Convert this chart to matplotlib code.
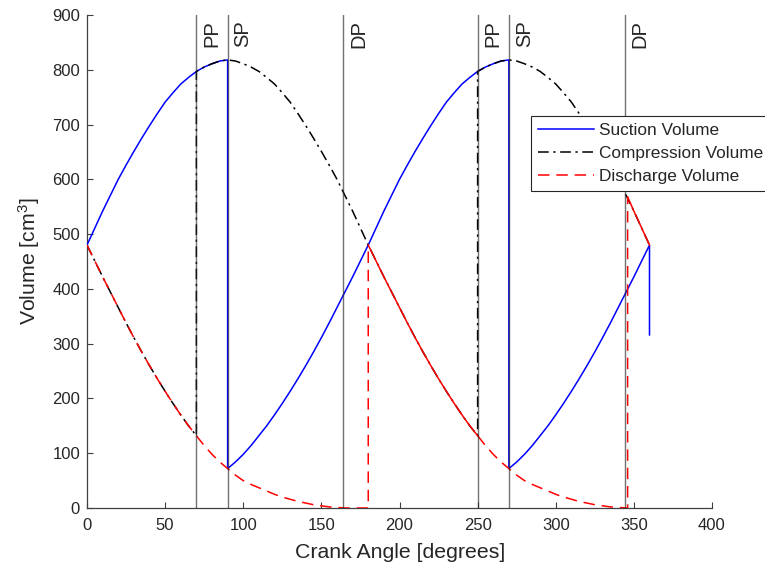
import matplotlib
matplotlib.use('Agg')
import matplotlib.pyplot as plt
from matplotlib.lines import Line2D
import matplotlib.transforms as mtransforms

plt.rcParams['font.family'] = ['Liberation Sans', 'DejaVu Sans']
plt.rcParams['mathtext.fontset'] = 'custom'
plt.rcParams['mathtext.rm'] = 'Liberation Sans'
plt.rcParams['mathtext.it'] = 'Liberation Sans:italic'

# ---------------- data ----------------
suction_angle = [0, 5, 10, 15, 20, 25, 30, 35, 40, 45, 50, 55, 60, 65, 70, 75, 80, 85, 90,
                 90, 95, 100, 105, 110, 115, 120, 125, 130, 135, 140, 145, 150, 155, 160, 165, 170, 175,
                 180, 185, 190, 195, 200, 205, 210, 215, 220, 225, 230, 235, 240, 245, 250, 255, 260, 265, 270,
                 270, 275, 280, 285, 290, 295, 300, 305, 310, 315, 320, 325, 330, 335, 340, 345, 350, 355, 360,
                 360]
suction_vol = [480, 511, 542, 571, 600, 626, 651, 675, 698, 720, 741, 758, 774, 786, 797, 805, 811, 816, 818,
               72, 84, 98, 114, 132, 150, 170, 191, 213, 236, 260, 285, 311, 338, 366, 394, 422, 451,
               480, 511, 542, 571, 600, 626, 651, 675, 698, 720, 741, 758, 774, 786, 797, 805, 811, 816, 818,
               72, 84, 98, 114, 132, 150, 170, 191, 213, 236, 260, 285, 311, 338, 366, 394, 422, 451, 480,
               316]

comp_angle = [0, 5, 10, 15, 20, 25, 30, 35, 40, 45, 50, 55, 60, 65, 70,
              70, 75, 80, 85, 90, 95, 100, 105, 110, 115, 120, 125, 130, 135, 140, 145, 150, 155, 160, 165,
              170, 175, 180, 185, 190, 195, 200, 205, 210, 215, 220, 225, 230, 235, 240, 245, 250,
              250, 255, 260, 265, 270, 275, 280, 285, 290, 295, 300, 305, 310, 315, 320, 325, 330, 335,
              340, 345, 350, 355, 360]
comp_vol = [480, 451, 422, 394, 366, 338, 311, 285, 260, 236, 213, 191, 170, 150, 132,
            797, 805, 811, 816, 818, 816, 811, 805, 797, 786, 774, 758, 741, 720, 698, 675, 651, 626, 600, 571,
            542, 511, 480, 451, 422, 394, 366, 338, 311, 285, 260, 236, 213, 191, 170, 150, 132,
            797, 805, 811, 816, 818, 816, 811, 805, 797, 786, 774, 758, 741, 720, 698, 675, 651, 626,
            600, 571, 542, 511, 480]

disch_angle_a = [0, 5, 10, 15, 20, 25, 30, 35, 40, 45, 50, 55, 60, 65, 70, 75, 80, 85, 90, 95, 100, 105,
                 110, 115, 120, 125, 130, 135, 140, 145, 150, 155, 160, 165, 170, 175, 180, 180]
disch_vol_a = [480, 451, 422, 394, 366, 338, 311, 285, 260, 236, 213, 191, 170, 150, 132, 114, 98, 84, 72, 60, 50, 43,
               37, 31, 25, 20, 16, 12, 9, 6, 4, 2, 1, 0, 0, 0, 0, 480]
disch_angle_b = [180, 185, 190, 195, 200, 205, 210, 215, 220, 225, 230, 235, 240, 245, 250]
disch_vol_b = [480, 451, 422, 394, 366, 338, 311, 285, 260, 236, 213, 191, 170, 150, 132]
disch_angle_c = [250, 255, 260, 265, 270, 275, 280, 285, 290, 295, 300, 305, 310, 315, 320, 325, 330, 335, 340,
                 346, 346]
disch_vol_c = [132, 114, 98, 84, 72, 60, 50, 43, 37, 31, 25, 20, 16, 12, 9, 6, 4, 2, 1,
               0, 568]
disch_angle_d = [346, 350, 355, 360]
disch_vol_d = [568, 542, 511, 480]

event_angles = [70, 90, 164, 250, 270, 344]
event_labels = ['PP', 'SP', 'DP', 'PP', 'SP', 'DP']

legend_labels = ['Suction Volume', 'Compression Volume', 'Discharge Volume']
x_ticks = [0, 50, 100, 150, 200, 250, 300, 350, 400]
y_ticks = [0, 100, 200, 300, 400, 500, 600, 700, 800, 900]

# ---------------- figure ----------------
W, H = 765, 574
fig = plt.figure(figsize=(W / 100, H / 100), dpi=100)
ax = fig.add_axes([87 / W, 1 - 508 / H, (712 - 87) / W, (508 - 15) / H])

txt = '#262626'
lw = 1.1
dash_red = (0, (7.5, 4.5))
dashdot = (0, (7, 3, 1.5, 3))

ax.plot(suction_angle, suction_vol, color='#0000ff', lw=lw, zorder=3)
ax.plot(comp_angle, comp_vol, color='black', lw=lw, linestyle=dashdot, zorder=3)
ax.plot(disch_angle_a, disch_vol_a, color='#ff0000', lw=lw, linestyle=dash_red, zorder=4)
ax.plot(disch_angle_b, disch_vol_b, color='#ff0000', lw=lw, zorder=4)
ax.plot(disch_angle_c, disch_vol_c, color='#ff0000', lw=lw, linestyle=dash_red, zorder=4)
ax.plot(disch_angle_d, disch_vol_d, color='#ff0000', lw=lw, zorder=4)

off = mtransforms.ScaledTranslation(6 / 100, -5 / 100, fig.dpi_scale_trans)
for a, lab in zip(event_angles, event_labels):
    ax.axvline(a, color='#262626', alpha=0.65, lw=1.0, zorder=5)
    ax.text(a, 900, lab, rotation=90, ha='left', va='top', fontsize=14.5, color=txt,
            transform=ax.transData + off, zorder=6)

ax.set_xlim(0, 400)
ax.set_ylim(0, 900)
ax.set_xticks(x_ticks)
ax.set_yticks(y_ticks)
for s in ['top', 'right']:
    ax.spines[s].set_visible(False)
for s in ['left', 'bottom']:
    ax.spines[s].set_color('#404040')
    ax.spines[s].set_linewidth(0.9)
ax.tick_params(direction='in', length=4, width=0.8, colors='#404040', labelcolor=txt, labelsize=12)
ax.tick_params(axis='x', pad=7)
ax.tick_params(axis='y', pad=5)

ax.set_xlabel('Crank Angle [degrees]', fontsize=15.3, color=txt)
ax.set_ylabel('Volume [cm$^3$]', fontsize=15.3, color=txt)
ax.xaxis.set_label_coords(0.5008, -0.070)
ax.yaxis.set_label_coords(-0.072, 0.5)

handles = [Line2D([], [], color='#0000ff', lw=lw),
           Line2D([], [], color='black', lw=lw, linestyle=dashdot),
           Line2D([], [], color='#ff0000', lw=lw, linestyle=dash_red)]
leg = fig.legend(handles, legend_labels, loc='upper left', bbox_to_anchor=(531 / W, 1 - 115.7 / H),
                 fontsize=12.4, frameon=True, fancybox=False, framealpha=1, edgecolor='#262626',
                 borderpad=0.42, handlelength=3.25, handletextpad=0.29, labelspacing=0.46,
                 borderaxespad=0)
leg.get_frame().set_linewidth(0.8)
for t in leg.get_texts():
    t.set_color(txt)

fig.savefig('out.png', dpi=100)
